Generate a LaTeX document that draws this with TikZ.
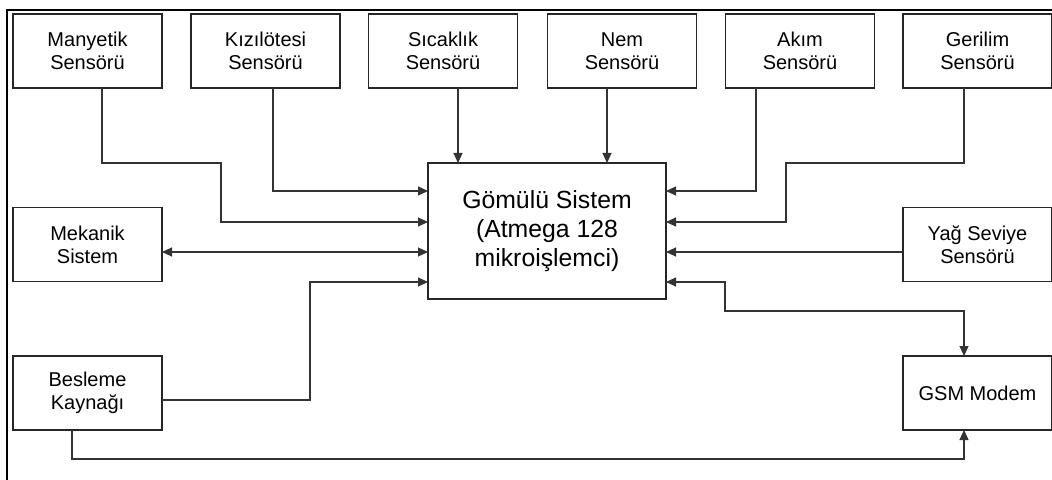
\documentclass[tikz,border=0pt]{standalone}
\usepackage{fontspec}
\setmainfont{Liberation Sans}
\usetikzlibrary{positioning, arrows.meta, calc}

\tikzset{
  blok/.style={draw=black!85, line width=0.6pt, minimum width=74.5pt, minimum height=37pt,
    inner sep=0pt, outer sep=0pt, align=center, font=\fontsize{10}{11.5}\selectfont},
  conn/.style={draw=black!80, line width=0.55pt, -{Triangle[length=5pt,width=4.5pt]}},
  biconn/.style={conn, {Triangle[length=5pt,width=4.5pt]}-{Triangle[length=5pt,width=4.5pt]}}
}

\begin{document}
\begin{tikzpicture}[x=0.5pt, y=-0.5pt]
  \useasboundingbox (0,0) rectangle (1052,480);
  % Frame
  \draw[line width=1.3pt] (7,480) -- (7,10) -- (1052,10);

  % Sensors (top row)
  \node[blok] (many) at (87.5,51)  {Manyetik\\Sensörü};
  \node[blok] (kiz)  at (265.5,51) {Kızılötesi\\Sensörü};
  \node[blok] (sic)  at (443,51)   {Sıcaklık\\Sensörü};
  \node[blok] (nem)  at (622,51)   {Nem\\Sensörü};
  \node[blok] (akim) at (800,51)   {Akım\\Sensörü};
  \node[blok] (ger)  at (977.5,51) {Gerilim\\Sensörü};

  % Side blocks
  \node[blok] (mek) at (87.5,244.5)  {Mekanik\\Sistem};
  \node[blok] (yag) at (977.5,244.5) {Yağ Seviye\\Sensörü};
  \node[blok] (bes) at (87.5,393)    {Besleme\\Kaynağı};
  \node[blok] (gsm) at (977.5,393)   {GSM Modem};

  % Core
  \node[blok, minimum width=119pt, minimum height=68pt,
        font=\fontsize{12.4}{14.5}\selectfont] (core) at (547,231)
        {Gömülü Sistem\\(Atmega 128\\mikroişlemci)};

  % Bend points
  \coordinate (b1) at (221,163);
  \coordinate (b2) at (786,163);
  \coordinate (b3) at (310,282);
  \coordinate (b4) at (725,311);
  \coordinate (b5) at (500,459);

  % Arrows
  \draw[conn] ([xshift=7.25pt]many.south) |- (b1) |- ($(core.west)+(0,-9)$);
  \draw[conn] ([xshift=3.75pt]kiz.south) |- ($(core.west)+(0,-40)$);
  \draw[conn] ([xshift=7.5pt]sic.south) -- ([xshift=7.5pt]sic.south |- core.north);
  \draw[conn] ([xshift=-7.5pt]nem.south) -- ([xshift=-7.5pt]nem.south |- core.north);
  \draw[conn] ([xshift=-22pt]akim.south) |- ($(core.east)+(0,-40)$);
  \draw[conn] ([xshift=-6.75pt]ger.south) |- (b2) |- ($(core.east)+(0,-9)$);
  \draw[conn] ($(yag.west)+(0,7.5)$) -- ($(core.east)+(0,21)$);
  \draw[biconn] ($(mek.east)+(0,7.5)$) -- ($(core.west)+(0,21)$);
  \draw[conn] ($(bes.east)+(0,7)$) -| (b3) -- ($(core.west)+(0,51)$);
  \draw[biconn] ($(core.east)+(0,51)$) -| (b4) -| ([xshift=-6.75pt]gsm.north);
  \draw[conn] ([xshift=-7.75pt]bes.south) |- (b5) -| ([xshift=-6.75pt]gsm.south);
\end{tikzpicture}
\end{document}
